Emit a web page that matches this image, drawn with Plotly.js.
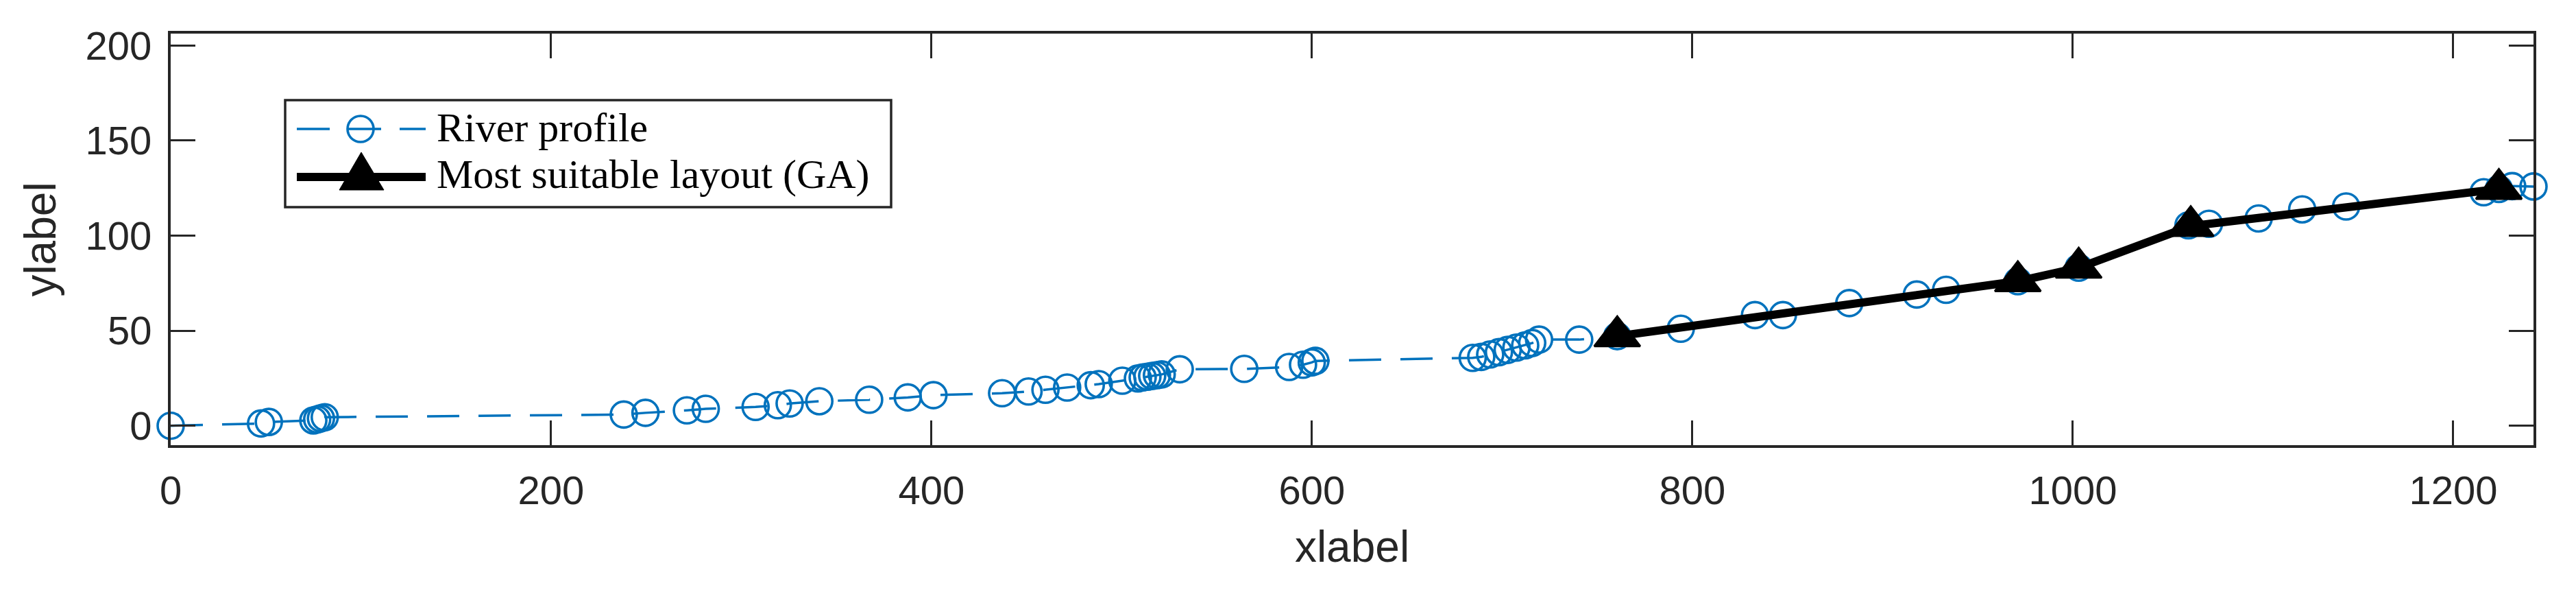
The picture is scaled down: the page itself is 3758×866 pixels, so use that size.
<!DOCTYPE html>
<html>
<head>
<meta charset="utf-8">
<script src="https://cdn.plot.ly/plotly-3.0.1.min.js"></script>
<style>
  html, body { margin: 0; padding: 0; background: #ffffff; }
  #chart { width: 3758px; height: 866px; }
</style>
</head>
<body>
<div id="chart"></div>
<script>
// ---- Data: river profile (distance, elevation) ----
var riverX = [0, 47.5, 51.6, 75, 77, 79, 81, 238.2, 249.6, 271.4, 281.3, 307.5, 319.2, 325.4, 341, 367.2,
  387.5, 401, 437.1, 451, 459.9, 471.3, 483.7, 487.9, 500.3, 508.5, 511, 513.5, 516, 518.5, 521,
  530.5, 564.4, 588, 595.3, 599.9, 601.8, 684.5, 689, 693.7, 698.3, 702.9, 707.5, 712.1, 715.8, 719.4,
  740.5, 760.5, 793.9, 832.9, 847.6, 882.5, 918, 933.4, 971.1, 1003.1, 1060.8, 1071.6, 1097.7,
  1120.6, 1143.7, 1216, 1224, 1231, 1242.2];
var riverY = [0, 1.2, 2.0, 2.8, 3.3, 3.9, 4.5, 5.9, 6.8, 8.1, 8.9, 9.9, 10.8, 11.7, 12.9, 13.7,
  14.9, 16.1, 17.1, 18.0, 18.9, 20.1, 21.3, 21.9, 23.7, 24.9, 25.4, 25.8, 26.2, 26.6, 27.0,
  29.7, 29.9, 30.9, 32.1, 33.3, 34.1, 35.7, 36.2, 37.5, 38.7, 39.9, 41.1, 42.3, 43.5, 45.3,
  45.3, 47.1, 51.0, 58.2, 58.2, 64.5, 69.0, 71.5, 76.0, 83.1, 105.4, 106.2, 109.0,
  113.8, 115.3, 122.8, 124.5, 126.0, 125.8];

// ---- Data: most suitable layout (GA) ----
var gaX = [760.5, 971.1, 1003.1, 1062, 1224];
var gaY = [47.1, 76.0, 83.1, 105.0, 124.5];

// ---- Labels ----
var seriesNames = ['River profile', 'Most suitable layout (GA)'];
var xTicks = [0, 200, 400, 600, 800, 1000, 1200];
var yTicks = [0, 50, 100, 150, 200];
var xTitle = 'xlabel';
var yTitle = 'ylabel';

// ---- Geometry helpers (plot area in page pixels) ----
var L = 249, T = 49, W = 3447, H = 600;
function px(x) { return (x - L) / W; }
function py(y) { return (T + H - y) / H; }

var blue = '#0072BD';
var axisColor = '#262626';

var traces = [
  {
    x: riverX, y: riverY, type: 'scatter', mode: 'lines+markers', name: seriesNames[0],
    line: { color: blue, width: 3.5, dash: '47px,28px' },
    marker: { symbol: 'circle-open', size: 38, color: blue, line: { color: blue, width: 3.6 } },
    cliponaxis: false, showlegend: false
  },
  {
    x: gaX, y: gaY, type: 'scatter', mode: 'lines+markers', name: seriesNames[1],
    line: { color: '#000000', width: 12 },
    marker: { symbol: 'triangle-up', size: 58, color: '#000000', line: { color: '#000000', width: 3 } },
    cliponaxis: false, showlegend: false
  }
];

var tickFont = { family: 'Liberation Sans, Arial, sans-serif', size: 58, color: axisColor };
var titleFont = { family: 'Liberation Sans, Arial, sans-serif', size: 64, color: axisColor };

var shapes = [
  // legend frame
  { type: 'rect', xref: 'paper', yref: 'paper', x0: px(416), x1: px(1300), y0: py(302), y1: py(146),
    line: { color: axisColor, width: 3.5 }, fillcolor: '#ffffff', layer: 'above' },
  // row 1 symbol: dashed blue line + open circle
  { type: 'line', xref: 'paper', yref: 'paper', x0: px(433), x1: px(621), y0: py(188), y1: py(188),
    line: { color: blue, width: 3.5, dash: '48px,27px' }, layer: 'above' },
  { type: 'circle', xref: 'paper', yref: 'paper', x0: px(507), x1: px(545), y0: py(207), y1: py(169),
    line: { color: blue, width: 3.6 }, layer: 'above' },
  // row 2 symbol: thick black line + filled triangle
  { type: 'line', xref: 'paper', yref: 'paper', x0: px(433), x1: px(621), y0: py(258), y1: py(258),
    line: { color: '#000000', width: 12 }, layer: 'above' },
  { type: 'path', xref: 'paper', yref: 'paper',
    path: 'M ' + px(495) + ',' + py(277) + ' L ' + px(527) + ',' + py(222) + ' L ' + px(560) + ',' + py(277) + ' Z',
    line: { color: '#000000', width: 1 }, fillcolor: '#000000', layer: 'above' }
];

var legendFont = { family: 'Liberation Serif, Times New Roman, serif', size: 60, color: '#000000' };
var annotations = [
  { xref: 'paper', yref: 'paper', x: px(635), y: py(186), text: seriesNames[0], showarrow: false,
    xanchor: 'left', yanchor: 'middle', font: legendFont },
  { xref: 'paper', yref: 'paper', x: px(635), y: py(254), text: seriesNames[1], showarrow: false,
    xanchor: 'left', yanchor: 'middle', font: legendFont }
];

var layout = {
  width: 3758, height: 866,
  margin: { l: L, r: 3758 - L - W, t: T, b: 866 - T - H, pad: 0 },
  paper_bgcolor: '#ffffff', plot_bgcolor: '#ffffff',
  showlegend: false,
  xaxis: {
    range: [0, 1242.2], tickmode: 'array', tickvals: xTicks, ticktext: xTicks.map(String),
    ticks: 'inside', ticklen: 36, tickwidth: 3, tickcolor: axisColor,
    showline: true, linecolor: axisColor, linewidth: 4, mirror: 'ticks',
    showgrid: false, zeroline: false, tickfont: tickFont, ticklabelstandoff: 12,
    title: { text: xTitle, font: titleFont, standoff: 30 }
  },
  yaxis: {
    range: [-10.2, 206.2], tickmode: 'array', tickvals: yTicks, ticktext: yTicks.map(String),
    ticks: 'inside', ticklen: 36, tickwidth: 3, tickcolor: axisColor,
    showline: true, linecolor: axisColor, linewidth: 4, mirror: 'ticks',
    showgrid: false, zeroline: false, tickfont: tickFont, ticklabelstandoff: 12,
    title: { text: yTitle, font: titleFont, standoff: 23 }
  },
  shapes: shapes,
  annotations: annotations
};

Plotly.newPlot('chart', traces, layout, { displayModeBar: false, staticPlot: true });
</script>
</body>
</html>
